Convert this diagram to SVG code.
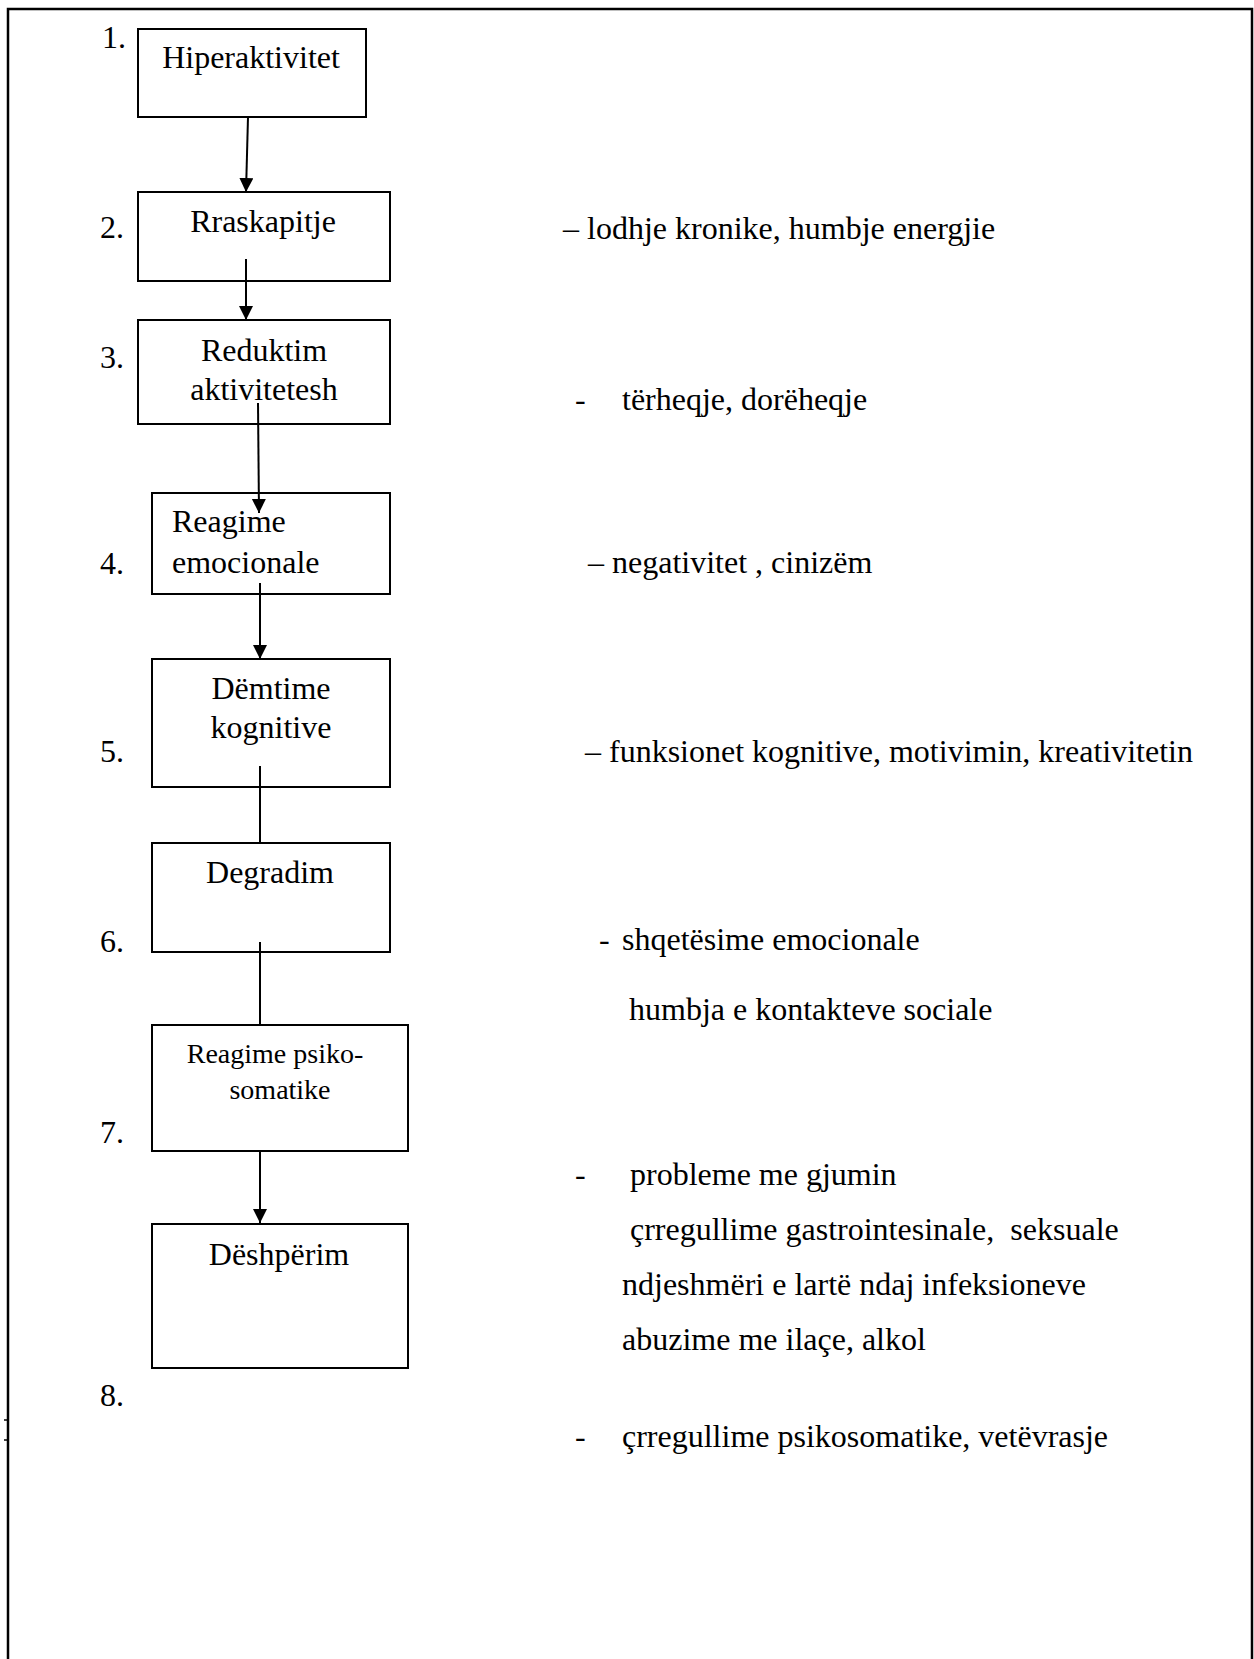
<svg xmlns="http://www.w3.org/2000/svg" width="1254" height="1659" viewBox="0 0 1254 1659">
<defs>
<marker id="ah" viewBox="0 0 14 15" refX="14" refY="7" markerWidth="14" markerHeight="15" markerUnits="userSpaceOnUse" orient="auto">
<path d="M0,0 L14,7 L0,14 z" fill="#000"/>
</marker>
<style>
text{font-family:"Liberation Serif","Times New Roman",serif;font-size:32px;fill:#000}
.box{fill:none;stroke:#000;stroke-width:2}
.c{text-anchor:middle}
.sm{font-size:28px}
.ln{stroke:#000;stroke-width:2;fill:none}
</style>
</defs>
<rect width="1254" height="1659" fill="#fff"/>
<path d="M8,1659 V9 H1252 V1659" fill="none" stroke="#000" stroke-width="2.5"/>
<line x1="4" y1="1420" x2="8" y2="1420" stroke="#000" stroke-width="1.5"/>
<line x1="4" y1="1440" x2="8" y2="1440" stroke="#000" stroke-width="1.5"/>

<g id="connectors">
<line class="ln" x1="248" y1="117" x2="246" y2="192" marker-end="url(#ah)"/>
<line class="ln" x1="246" y1="259" x2="246" y2="320" marker-end="url(#ah)"/>
<line class="ln" x1="258" y1="403" x2="259" y2="513" marker-end="url(#ah)"/>
<line class="ln" x1="260" y1="583" x2="260" y2="659" marker-end="url(#ah)"/>
<line class="ln" x1="260" y1="766" x2="260" y2="843"/>
<line class="ln" x1="260" y1="942" x2="260" y2="1025"/>
<line class="ln" x1="260" y1="1151" x2="260" y2="1223" marker-end="url(#ah)"/>
</g>

<g id="node1">
<rect class="box" x="138" y="29" width="228" height="88"/>
<text x="251" y="68" class="c">Hiperaktivitet</text>
</g>
<g id="node2">
<rect class="box" x="138" y="192" width="252" height="89"/>
<text x="263" y="232" class="c">Rraskapitje</text>
</g>
<g id="node3">
<rect class="box" x="138" y="320" width="252" height="104"/>
<text x="264" y="361" class="c">Reduktim</text>
<text x="264" y="400" class="c">aktivitetesh</text>
</g>
<g id="node4">
<rect class="box" x="152" y="493" width="238" height="101"/>
<text x="172" y="532">Reagime</text>
<text x="172" y="573">emocionale</text>
</g>
<g id="node5">
<rect class="box" x="152" y="659" width="238" height="128"/>
<text x="271" y="699" class="c">Dëmtime</text>
<text x="271" y="738" class="c">kognitive</text>
</g>
<g id="node6">
<rect class="box" x="152" y="843" width="238" height="109"/>
<text x="270" y="883" class="c">Degradim</text>
</g>
<g id="node7">
<rect class="box" x="152" y="1025" width="256" height="126"/>
<text x="275" y="1063" class="c sm">Reagime psiko-</text>
<text x="280" y="1099" class="c sm">somatike</text>
</g>
<g id="node8">
<rect class="box" x="152" y="1224" width="256" height="144"/>
<text x="279" y="1265" class="c">Dëshpërim</text>
</g>

<g id="numbers">
<text x="102" y="48">1.</text>
<text x="100" y="238">2.</text>
<text x="100" y="368">3.</text>
<text x="100" y="574">4.</text>
<text x="100" y="762">5.</text>
<text x="100" y="952">6.</text>
<text x="100" y="1143">7.</text>
<text x="100" y="1406">8.</text>
</g>

<g id="descriptions">
<text x="563" y="239">– lodhje kronike, humbje energjie</text>
<text x="575" y="410">-</text>
<text x="622" y="410">tërheqje, dorëheqje</text>
<text x="588" y="573">– negativitet , cinizëm</text>
<text x="585" y="762">– funksionet kognitive, motivimin, kreativitetin</text>
<text x="599" y="950">-</text>
<text x="622" y="950">shqetësime emocionale</text>
<text x="629" y="1020">humbja e kontakteve sociale</text>
<text x="575" y="1185">-</text>
<text x="630" y="1185">probleme me gjumin</text>
<text x="630" y="1240" xml:space="preserve">çrregullime gastrointesinale,  seksuale</text>
<text x="622" y="1295">ndjeshmëri e lartë ndaj infeksioneve</text>
<text x="622" y="1350">abuzime me ilaçe, alkol</text>
<text x="575" y="1447">-</text>
<text x="622" y="1447">çrregullime psikosomatike, vetëvrasje</text>
</g>
</svg>
